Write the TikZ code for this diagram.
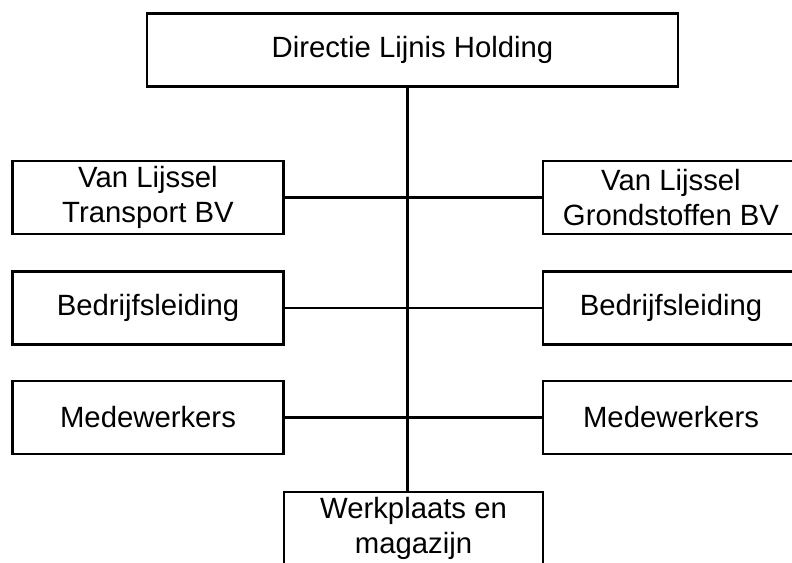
\documentclass[tikz,border=0pt]{standalone}
\usepackage{fontspec}
\setmainfont{Liberation Sans}[Ligatures={NoCommon}]
\usepackage{tikz}
\usetikzlibrary{calc}

\begin{document}
\begin{tikzpicture}[x=1pt,y=-1pt,
  box/.style={draw, line width=2.9pt, rectangle, inner sep=0pt, align=center,
    minimum height=73pt, font=\fontsize{29.3}{35}\selectfont},
  link/.style={line width=2.9pt}]
  \useasboundingbox (0,0) rectangle (792,562);
  \clip (0,0) rectangle (792,562);

  \node[box, minimum width=531pt] (directie) at (412.5,50) {Directie Lijnis Holding};

  \node[box, minimum width=271.5pt] (transport) at (148,197.5) {Van Lijssel\\Transport BV};
  \node[box, minimum width=271.5pt] (leidingL) at (148,308) {Bedrijfsleiding};
  \node[box, minimum width=271.5pt] (medewL) at (148,417.5) {Medewerkers};

  \node[box, minimum width=256pt] (grondstof) at (671,197.5) {Van Lijssel\\Grondstoffen BV};
  \node[box, minimum width=256pt] (leidingR) at (671,308) {Bedrijfsleiding};
  \node[box, minimum width=256pt] (medewR) at (671,417.5) {Medewerkers};

  \node[box, minimum width=259pt] (werkplaats) at (413.5,528.5) {Werkplaats en\\magazijn};

  \coordinate (spine) at (407.5,0);

  \draw[link]
  (directie.south -| spine) -- (werkplaats.north -| spine)
  (transport.east) -- (grondstof.west)
  (leidingL.east) -- (leidingR.west)
  (medewL.east) -- (medewR.west)
  ;
\end{tikzpicture}
\end{document}
